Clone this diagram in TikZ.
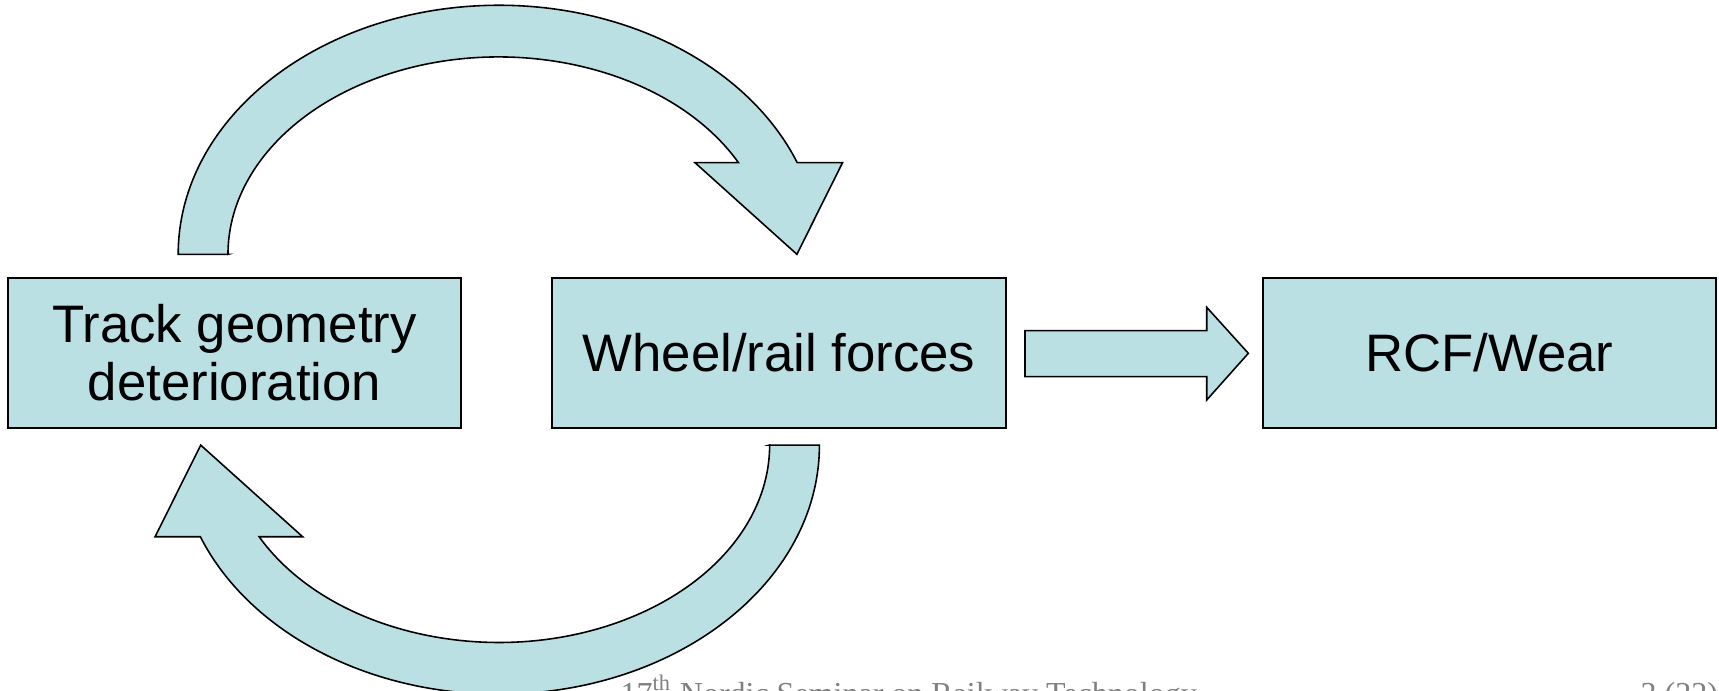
\documentclass[tikz,border=0pt]{standalone}
\usepackage{fontspec}
\setmainfont{Liberation Sans}
\newfontfamily\footfont{Liberation Serif}
\definecolor{boxfill}{RGB}{187,224,227}
\definecolor{footgray}{RGB}{128,128,128}
\begin{document}
\begin{tikzpicture}[x=0.01cm,y=0.01cm,
  box/.style={draw=black,line width=0.55pt,fill=boxfill,minimum width=4.53cm,minimum height=1.5cm,
    align=center,inner sep=0pt,font=\fontsize{15}{16.5}\selectfont},
  blockarrow/.style={draw=black,line width=0.45pt,fill=boxfill,line join=miter},
  foot/.style={anchor=base west,inner sep=0pt,text=footgray,font=\footfont\fontsize{9.1}{10}\selectfont}]
\useasboundingbox (0,0) rectangle (1719,690);
% boxes
\node[box] (track) at (234.5,337) {Track geometry\\deterioration};
\node[box] (wheel) at (779,337) {Wheel/rail forces};
\node[box] (rcf) at (1489.4,337) {RCF/Wear};
% top curved arrow
\draw[blockarrow] (228.2,435.7) -- (178.2,435.7)
  arc[start angle=180,end angle=21.59,x radius=3.206cm,y radius=2.489cm]
  -- (842.5,527.3) -- (796.9,435.7) -- (695,527.3) -- (738.5,527.3)
  arc[start angle=27.67,end angle=180,x radius=2.706cm,y radius=1.973cm] -- cycle;
% bottom curved arrow (same shape turned half round)
\begin{scope}[rotate around={180:(498.8,340.3)}]
\draw[blockarrow] (228.2,435.7) -- (178.2,435.7)
  arc[start angle=180,end angle=21.59,x radius=3.206cm,y radius=2.489cm]
  -- (842.5,527.3) -- (796.9,435.7) -- (695,527.3) -- (738.5,527.3)
  arc[start angle=27.67,end angle=180,x radius=2.706cm,y radius=1.973cm] -- cycle;
\end{scope}
% straight block arrow
\draw[blockarrow] (1025,359.3) -- (1206.7,359.3) -- (1206.7,382.7) -- (1248.3,336.7)
  -- (1206.7,290) -- (1206.7,313.3) -- (1025,313.3) -- cycle;
% footer (cut off by the lower edge)
\node[foot] (seminar) at (620,-14) {17\textsuperscript{th} Nordic Seminar on Railway Technology};
\node[foot] (page) at (1640,-14) {3 (22)};
\end{tikzpicture}
\end{document}
